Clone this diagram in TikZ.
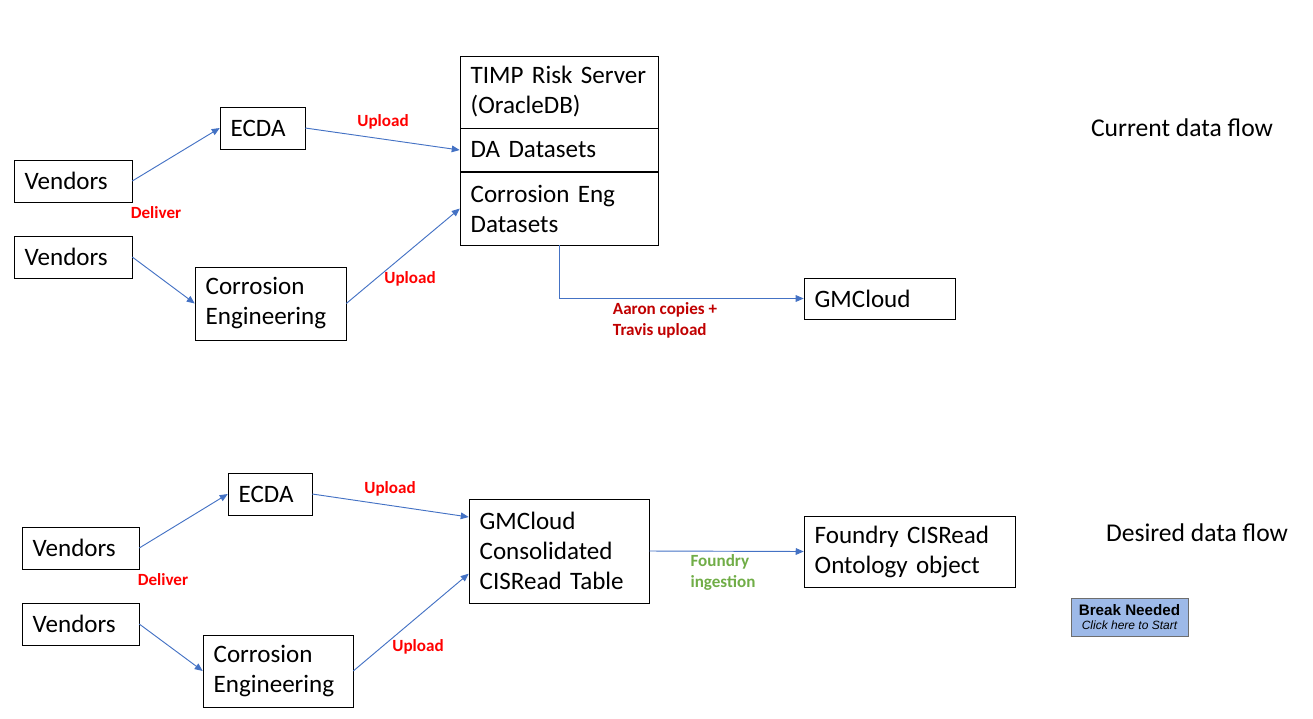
\documentclass[tikz,border=0pt]{standalone}
\usepackage{fontspec}
\setmainfont{Carlito}
\newfontfamily\arialfont{Liberation Sans}
\usetikzlibrary{positioning,arrows.meta}

\begin{document}
\begin{tikzpicture}
[x=0.75pt,y=-0.75pt,node distance=0pt,
bx/.style 2 args={draw,rectangle,inner xsep=8pt,inner ysep=0pt,text width=#1,minimum height=#2,align=left,font=\fontsize{18.8}{22.5}\selectfont},
ar/.style={-{Triangle[length=6pt,width=5pt]},line width=0.7pt,draw={rgb,255:red,68;green,114;blue,196}},
lbred/.style={font=\fontsize{12.8}{15.75}\selectfont\bfseries,text={rgb,255:red,255;green,0;blue,0},inner sep=0pt},
lbdark/.style={font=\fontsize{12.8}{15.75}\selectfont\bfseries,text={rgb,255:red,192;green,0;blue,0},inner sep=0pt,align=left},
lbgreen/.style={font=\fontsize{12.8}{15.75}\selectfont\bfseries,text={rgb,255:red,112;green,173;blue,71},inner sep=0pt,align=left},
ttl/.style={font=\fontsize{19.2}{22}\selectfont,inner sep=0pt}]
\useasboundingbox (0,0) rectangle (1313,718);
%%%%% CURRENT DATA FLOW
\node[bx={72.5pt}{31.5pt}] (vend1) at (73,181) {Vendors};
\node[bx={72.5pt}{31.5pt}] (vend2) at (73,257) {Vendors};
\node[bx={47.75pt}{31.5pt}] (ecda1) at (262.5,128) {ECDA};
\node[bx={97.25pt}{54.75pt}] (corr1) at (270.5,303.5) {Corrosion\\Engineering};
\node[bx={132.5pt}{54pt}] (timp) at (559,92) {TIMP Risk Server\\(OracleDB)};
\node[bx={132.5pt}{32.25pt},below=0pt of timp] (da) {DA Datasets};
\node[bx={132.5pt}{54.75pt},below=0pt of da] (ceds) {Corrosion Eng\\Datasets};
\node[bx={97.25pt}{30.75pt}] (gmc1) at (879.5,298.5) {GMCloud};
\draw[ar] (vend1.east) -- (ecda1.west);
\draw[ar] (ecda1.east) -- (da.west);
\draw[ar] (vend2.east) -- (corr1.west);
\draw[ar] (corr1.east) -- (ceds.west);
\draw[ar] (ceds.south) |- (gmc1.west);
\node[lbred] (ldel1) at (156,213) {Deliver};
\node[lbred] (lup1) at (383,122) {Upload};
\node[lbred] (lup2) at (410,279) {Upload};
\node[lbdark] (lcopy) at (665,320) {Aaron copies +\\Travis upload};
\node[ttl] (cur) at (1182,128) {Current data flow};
%%%%% DESIRED DATA FLOW
\node[bx={71.75pt}{31.5pt}] (vend3) at (80.5,548) {Vendors};
\node[bx={71.75pt}{31.5pt}] (vend4) at (80.5,624) {Vendors};
\node[bx={47pt}{31.5pt}] (ecda2) at (270,494) {ECDA};
\node[bx={96.5pt}{54pt}] (corr2) at (278,671) {Corrosion\\Engineering};
\node[bx={119pt}{78pt}] (gmc2) at (559,551) {GMCloud\\Consolidated\\CISRead Table};
\node[bx={142.25pt}{53.25pt}] (found) at (909.5,551.5) {Foundry CISRead\\Ontology object};
\draw[ar] (vend3.east) -- (ecda2.west);
\draw[ar] (ecda2.east) -- ([yshift=25.5pt]gmc2.west);
\draw[ar] (vend4.east) -- (corr2.west);
\draw[ar] (corr2.east) -- ([yshift=-17pt]gmc2.west);
\draw[ar] (gmc2.east) -- (found.west);
\node[lbred] (ldel2) at (163,580) {Deliver};
\node[lbred] (lup3) at (390,489) {Upload};
\node[lbred] (lup4) at (418,647) {Upload};
\node[lbgreen] (ling) at (723,572) {Foundry\\ingestion};
\node[ttl] (des) at (1197,533) {Desired data flow};
%%%%% BUTTON
\node[draw={rgb,255:red,110;green,110;blue,110},fill={rgb,255:red,157;green,185;blue,232},minimum width=87.75pt,minimum height=28.5pt,inner sep=0pt,align=center] (brk) at (1129.5,617)
{{\arialfont\fontsize{11.4}{12.5}\selectfont\bfseries Break Needed}\\[-1pt]{\arialfont\fontsize{9}{10}\selectfont\itshape Click here to Start}};
\end{tikzpicture}
\end{document}
